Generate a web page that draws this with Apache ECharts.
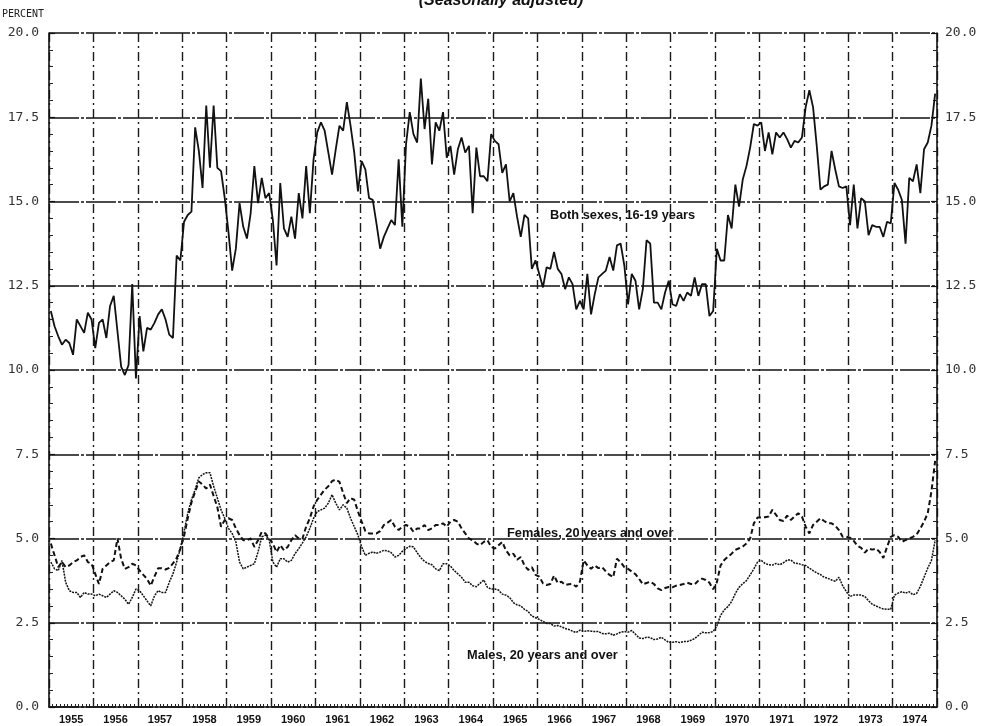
<!DOCTYPE html>
<html>
<head>
<meta charset="utf-8">
<script src="https://cdn.jsdelivr.net/npm/echarts@6/dist/echarts.min.js"></script>
<style>
html,body{margin:0;padding:0;background:#fff;}
#chart{width:985px;height:726px;}
</style>
</head>
<body>
<div id="chart"></div>
<script>
// ---- data (monthly, seasonally adjusted, percent) ----
var years = [1955,1956,1957,1958,1959,1960,1961,1962,1963,1964,1965,1966,1967,1968,1969,1970,1971,1972,1973,1974];
var yTicks = [0, 2.5, 5, 7.5, 10, 12.5, 15, 17.5, 20];

var bothSexes16to19 = [
 11.75,11.3,11.0,10.75,10.9,10.8,10.45,11.5,11.3,11.1,11.7,11.5,
 10.65,11.4,11.5,10.95,11.9,12.2,11.15,10.1,9.85,10.15,12.55,9.75,
 11.6,10.55,11.25,11.2,11.4,11.65,11.8,11.5,11.05,10.95,13.4,13.25,
 14.4,14.6,14.7,17.2,16.5,15.4,17.85,16.0,17.85,16.0,15.9,15.1,
 14.1,12.95,13.6,14.95,14.25,13.9,14.65,16.05,14.95,15.7,15.1,15.25,
 14.45,13.1,15.55,14.2,13.95,14.55,13.9,15.25,14.5,16.05,14.65,16.25,
 17.05,17.35,17.1,16.45,15.8,16.55,17.25,17.1,17.95,17.25,16.45,15.3,
 16.2,15.95,15.1,15.05,14.35,13.6,13.95,14.2,14.45,14.3,16.25,14.25,
 16.7,17.65,17.0,16.75,18.65,17.15,18.05,16.1,17.35,17.1,17.65,16.3,
 16.65,15.8,16.55,16.9,16.45,16.65,14.65,16.6,15.75,15.75,15.6,17.0,
 16.8,16.7,15.85,16.1,15.0,15.25,14.55,13.95,14.6,14.5,13.0,13.25,
 12.85,12.45,13.05,13.0,13.5,13.0,12.85,12.4,12.75,12.55,11.8,12.05,
 11.8,12.85,11.65,12.25,12.75,12.85,12.95,13.35,12.95,13.7,13.75,13.1,
 11.95,12.85,12.65,11.8,12.4,13.85,13.75,12.0,12.0,11.8,12.3,12.65,
 11.95,11.9,12.25,12.05,12.3,12.2,12.75,12.2,12.55,12.55,11.6,11.75,
 13.6,13.25,13.25,14.6,14.2,15.5,14.85,15.65,16.05,16.6,17.3,17.25,
 17.35,16.5,17.05,16.4,17.05,16.9,17.05,16.85,16.6,16.8,16.75,16.9,
 17.8,18.3,17.8,16.65,15.35,15.45,15.5,16.5,15.95,15.45,15.4,15.45,
 14.3,15.5,14.2,15.1,15.0,14.0,14.3,14.25,14.25,13.95,14.4,14.35,
 15.55,15.35,15.05,13.75,15.7,15.6,16.1,15.25,16.55,16.75,17.25,18.2
];

var females20plus = [
 4.85,4.5,4.15,4.3,4.15,4.2,4.3,4.35,4.45,4.5,4.3,4.25,
 3.95,3.65,4.1,4.2,4.3,4.35,5.0,4.4,4.1,4.15,4.25,4.2,
 4.05,3.92,3.8,3.6,3.87,4.12,4.12,4.08,4.13,4.26,4.42,4.7,
 5.07,5.6,6.07,6.39,6.69,6.6,6.48,6.6,6.26,5.93,5.35,5.55,
 5.6,5.55,5.3,5.1,4.95,4.95,5.0,4.75,4.95,5.2,5.15,5.0,
 4.85,4.6,4.8,4.65,4.75,4.95,5.1,5.0,5.0,5.35,5.6,5.95,
 6.15,6.3,6.45,6.55,6.7,6.75,6.68,6.35,6.05,6.2,6.15,5.8,
 5.5,5.22,5.15,5.15,5.15,5.22,5.4,5.47,5.55,5.35,5.25,5.35,
 5.4,5.35,5.2,5.3,5.3,5.4,5.25,5.3,5.4,5.4,5.45,5.35,
 5.5,5.55,5.5,5.3,5.15,5.0,4.95,4.85,4.8,4.9,4.95,4.75,
 4.7,4.8,4.9,4.65,4.5,4.55,4.37,4.45,4.2,4.07,4.15,3.92,
 3.87,3.67,3.62,3.65,3.9,3.68,3.72,3.62,3.64,3.65,3.57,3.72,
 4.35,4.2,4.1,4.2,4.12,4.15,4.02,3.92,3.85,4.4,4.3,4.15,
 4.1,4.02,3.94,3.8,3.64,3.68,3.72,3.65,3.52,3.47,3.53,3.56,
 3.55,3.6,3.62,3.65,3.69,3.65,3.64,3.75,3.81,3.77,3.69,3.49,
 3.7,4.2,4.36,4.46,4.55,4.66,4.71,4.76,4.85,5.0,5.45,5.62,
 5.62,5.63,5.65,5.85,5.7,5.55,5.52,5.68,5.55,5.65,5.75,5.65,
 5.35,5.15,5.4,5.5,5.6,5.52,5.45,5.45,5.38,5.25,5.05,5.05,
 5.02,4.93,4.78,4.72,4.58,4.7,4.67,4.7,4.6,4.42,4.75,5.05,
 5.1,5.05,4.9,4.95,5.0,5.05,5.12,5.3,5.5,5.75,6.4,7.3
];

var males20plus = [
 4.3,4.1,4.05,4.35,3.7,3.45,3.4,3.4,3.25,3.4,3.35,3.35,
 3.3,3.35,3.3,3.25,3.35,3.45,3.4,3.3,3.2,3.05,3.25,3.5,
 3.45,3.3,3.15,3.0,3.3,3.45,3.4,3.4,3.7,3.95,4.3,4.7,
 5.2,5.75,6.15,6.45,6.8,6.9,6.95,6.95,6.55,6.2,5.85,5.6,
 5.3,5.15,4.9,4.3,4.1,4.15,4.2,4.25,4.6,5.05,5.1,4.97,
 4.3,4.15,4.4,4.4,4.3,4.35,4.55,4.7,4.87,5.05,5.3,5.6,
 5.8,5.85,5.9,6.05,6.3,6.05,5.85,6.0,5.9,5.6,5.35,5.1,
 4.75,4.5,4.56,4.6,4.56,4.6,4.65,4.63,4.58,4.45,4.5,4.62,
 4.7,4.77,4.75,4.58,4.43,4.32,4.26,4.22,4.1,4.05,4.25,4.25,
 4.18,4.05,3.95,3.85,3.7,3.7,3.6,3.57,3.67,3.77,3.55,3.5,
 3.5,3.47,3.35,3.32,3.25,3.1,3.03,3.0,2.9,2.83,2.7,2.65,
 2.6,2.54,2.48,2.48,2.4,2.42,2.38,2.33,2.3,2.25,2.21,2.28,
 2.24,2.26,2.25,2.24,2.24,2.18,2.17,2.19,2.13,2.17,2.22,2.24,
 2.22,2.27,2.16,2.05,2.03,2.07,2.06,2.0,2.02,2.07,1.99,1.92,
 1.92,1.94,1.91,1.94,1.94,1.98,2.03,2.12,2.22,2.2,2.21,2.24,
 2.4,2.72,2.88,2.98,3.13,3.37,3.55,3.66,3.75,3.92,4.1,4.3,
 4.35,4.26,4.22,4.21,4.26,4.22,4.28,4.36,4.36,4.27,4.26,4.22,
 4.2,4.12,4.05,3.98,3.93,3.85,3.82,3.77,3.73,3.85,3.6,3.42,
 3.28,3.32,3.32,3.32,3.28,3.15,3.05,3.0,2.95,2.91,2.9,2.9,
 3.32,3.38,3.42,3.38,3.42,3.33,3.37,3.58,3.85,4.12,4.35,4.95
];

var seriesNames = ['Both sexes, 16-19 years', 'Females, 20 years and over', 'Males, 20 years and over'];
var titleText = '(Seasonally adjusted)';
var unitText = 'PERCENT';

// month categories built from years
var months = [];
years.forEach(function (y) { for (var m = 1; m <= 12; m++) months.push(y + '-' + (m < 10 ? '0' + m : m)); });

var chart = echarts.init(document.getElementById('chart'), null, {renderer: 'canvas'});

var monoFont = '"DejaVu Sans Mono", "Liberation Mono", monospace';
var labelFont = '"Liberation Sans", Arial, sans-serif';

function yAxisCfg(pos, showSplit) {
  return {
    type: 'value', position: pos, min: yTicks[0], max: yTicks[yTicks.length - 1], interval: 2.5,
    axisLine: {show: true, lineStyle: {color: '#111', width: 1.6}},
    axisTick: {show: true, inside: true, length: 6, lineStyle: {color: '#111', width: 1.2}},
    minorTick: {show: true, splitNumber: 5, length: 4, lineStyle: {color: '#222', width: 1}},
    axisLabel: {
      show: true, margin: pos === 'left' ? 10 : 8, color: '#333',
      fontFamily: monoFont, fontSize: 13,
      formatter: function (v) { return v.toFixed(1); }
    },
    splitLine: {show: showSplit, lineStyle: {color: '#111', width: 1.6, type: [30, 2, 3, 2]}}
  };
}

var option = {
  backgroundColor: '#ffffff',
  animation: false,
  grid: {left: 49, right: 48, top: 33, bottom: 19, containLabel: false},
  xAxis: {
    type: 'category', data: months, boundaryGap: true,
    axisLine: {show: true, lineStyle: {color: '#111', width: 1.6}},
    axisTick: {show: true, inside: true, interval: 0, length: 3, lineStyle: {color: '#222', width: 1}},
    axisLabel: {
      show: true, interval: function (i) { return i % 12 === 6; },
      formatter: function (v) { return v.slice(0, 4); },
      margin: 7, color: '#111', fontFamily: labelFont, fontWeight: 'bold', fontSize: 11,
      padding: [0, 3.7, 0, 0]
    },
    splitLine: {show: true, interval: function (i) { return i % 12 === 0; },
      lineStyle: {color: '#1a1a1a', width: 1.4, type: [9, 4, 2, 4]}}
  },
  yAxis: [yAxisCfg('left', true), yAxisCfg('right', false)],
  series: [
    {name: seriesNames[0], type: 'line', data: bothSexes16to19, showSymbol: false, symbol: 'none',
      lineStyle: {color: '#111', width: 1.8}, z: 5},
    {name: seriesNames[1], type: 'line', data: females20plus, showSymbol: false, symbol: 'none',
      lineStyle: {color: '#111', width: 2, type: [5, 3]}, z: 4},
    {name: seriesNames[2], type: 'line', data: males20plus, showSymbol: false, symbol: 'none',
      lineStyle: {color: '#111', width: 1.5, type: [2, 1]}, z: 3}
  ],
  graphic: [
    {type: 'text', x: 501, y: 9, style: {text: titleText, font: 'italic bold 16px ' + labelFont,
      fill: '#111', textAlign: 'center', textVerticalAlign: 'bottom', align: 'center', verticalAlign: 'bottom'}},
    {type: 'text', x: 2, y: 14, style: {text: unitText, font: '10px ' + monoFont, fill: '#222',
      textVerticalAlign: 'middle', verticalAlign: 'middle'}},
    {type: 'text', x: 550, y: 215, style: {text: seriesNames[0], font: 'bold 12.8px ' + labelFont, fill: '#111',
      textVerticalAlign: 'middle', verticalAlign: 'middle'}},
    {type: 'text', x: 507, y: 533, style: {text: seriesNames[1], font: 'bold 12.8px ' + labelFont, fill: '#111',
      textVerticalAlign: 'middle', verticalAlign: 'middle'}},
    {type: 'text', x: 467, y: 655, style: {text: seriesNames[2], font: 'bold 12.8px ' + labelFont, fill: '#111',
      textVerticalAlign: 'middle', verticalAlign: 'middle'}}
  ]
};
chart.setOption(option);
</script>
</body>
</html>
